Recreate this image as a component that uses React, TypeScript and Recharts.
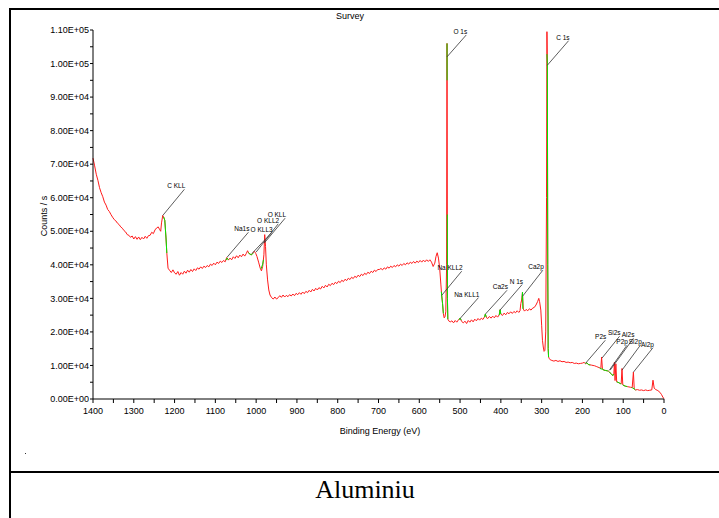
import { ComposedChart, Line, Scatter, XAxis, YAxis, ReferenceLine } from 'recharts'

// survey spectrum (binding energy in eV, counts / s)
const energy = [
  1400, 1396, 1392, 1388, 1384, 1380, 1376, 1372, 1368, 1364, 1360, 1356, 1352, 1348, 1344, 1340,
  1336, 1332, 1328, 1324, 1320, 1316, 1312, 1308, 1304, 1300, 1296, 1292, 1288, 1284, 1280, 1276,
  1272, 1268, 1264, 1260, 1256, 1252, 1248, 1244, 1240, 1237, 1234, 1232, 1229, 1227, 1224, 1221,
  1219, 1216, 1212, 1208, 1204, 1200, 1196, 1192, 1188, 1184, 1180, 1176, 1172, 1168, 1164, 1160,
  1156, 1152, 1148, 1144, 1140, 1136, 1132, 1128, 1124, 1120, 1116, 1112, 1108, 1104, 1100, 1096,
  1092, 1088, 1084, 1080, 1076, 1072, 1068, 1064, 1060, 1056, 1052, 1048, 1044, 1040, 1036, 1032,
  1028, 1024, 1021, 1018, 1015, 1012, 1008, 1004, 1001, 998, 994, 990, 987, 984, 981, 979,
  977, 975, 972, 969, 966, 962, 958, 954, 950, 946, 942, 938, 934, 930, 926, 922,
  918, 914, 910, 906, 902, 898, 894, 890, 886, 882, 878, 874, 870, 866, 862, 858,
  854, 850, 846, 842, 838, 834, 830, 826, 822, 818, 814, 810, 806, 802, 798, 794,
  790, 786, 782, 778, 774, 770, 766, 762, 758, 754, 750, 746, 742, 738, 734, 730,
  726, 722, 718, 714, 710, 706, 702, 698, 694, 690, 686, 682, 678, 674, 670, 666,
  662, 658, 654, 650, 646, 642, 638, 634, 630, 626, 622, 618, 614, 610, 606, 602,
  598, 594, 590, 586, 582, 578, 574, 570, 566, 562, 559, 556, 553, 550, 547, 545,
  543, 541, 539, 537, 535, 533, 532, 531, 530, 528, 524, 520, 516, 512, 508, 504,
  500, 496, 492, 488, 484, 480, 476, 472, 468, 464, 460, 456, 452, 448, 444, 440,
  438, 435, 432, 428, 424, 420, 416, 412, 408, 404, 402, 400, 396, 392, 388, 384,
  380, 376, 372, 368, 364, 360, 356, 353, 351, 349, 347, 345, 342, 338, 334, 330,
  326, 322, 318, 314, 310, 307, 305, 302, 300, 298, 296, 294, 292, 290, 288, 287,
  286, 285, 284, 283, 281, 279, 275, 270, 265, 260, 255, 250, 245, 240, 235, 230,
  225, 220, 215, 210, 205, 200, 196, 192, 189, 186, 182, 178, 174, 170, 166, 162,
  158, 155, 153, 151, 147, 143, 139, 136, 134, 131, 128, 125, 123, 121.5, 120, 118,
  116, 113, 110, 107, 105, 103, 101, 98, 94, 90, 86, 82, 78, 75, 73, 70,
  65, 60, 55, 50, 45, 40, 35, 30, 27, 24, 20, 15, 10, 6, 3, 0,
]
const counts = [
  71800, 69500, 67000, 65200, 63000, 61500, 60300, 58700, 57800, 56500, 55900, 55000, 54200, 53500, 53100, 52400,
  52000, 51300, 50900, 50200, 49800, 49000, 48800, 48200, 48600, 47700, 48400, 47600, 48300, 47500, 48200, 47700,
  48500, 47900, 48700, 48800, 49700, 49300, 50400, 51000, 51300, 50600, 50000, 52500, 54700, 54300, 53300, 48000,
  43500, 39000, 38300, 37700, 38500, 37600, 37200, 38000, 36900, 37700, 37200, 38100, 37500, 38400, 37800, 38600,
  38000, 38800, 38300, 39100, 38700, 39400, 38900, 39600, 39200, 39800, 39400, 40200, 39800, 40500, 40000, 40800,
  40400, 41100, 40700, 41300, 40900, 42200, 41400, 42000, 41500, 42400, 41900, 42700, 42100, 42900, 42400, 43200,
  42600, 43400, 44200, 43400, 43200, 42900, 43600, 44000, 43400, 42500, 40800, 39000, 38200, 39500, 43000, 49000,
  45500, 40000, 35500, 32500, 31000, 30200, 29800, 30400, 29800, 30200, 30800, 30300, 31000, 30400, 30900, 30500,
  31100, 30700, 31300, 30800, 31500, 31100, 31700, 31200, 31900, 31400, 32100, 31700, 32400, 31900, 32700, 32200,
  33000, 32500, 33200, 32800, 33600, 33100, 33900, 33400, 34200, 33800, 34500, 34100, 34800, 34400, 35100, 34700,
  35400, 35000, 35700, 35300, 36000, 35600, 36300, 35900, 36600, 36200, 36900, 36500, 37200, 36800, 37500, 37100,
  37800, 37400, 38100, 37700, 38400, 38000, 38600, 38600, 38900, 38500, 39100, 38700, 39400, 39000, 39600, 39200,
  39800, 39400, 40000, 39600, 40200, 39800, 40400, 40000, 40600, 40200, 40800, 40400, 41000, 40500, 41100, 40700,
  41300, 40800, 41400, 40900, 41500, 41000, 41500, 40800, 39500, 40500, 42500, 43600, 42000, 39000, 34000, 30900,
  28500, 25500, 24200, 24500, 26000, 40000, 106000, 30000, 23800, 23300, 23000, 23300, 22700, 23400, 22900, 23600,
  24100, 23100, 22700, 23200, 22500, 23400, 22900, 23600, 23000, 23800, 23300, 24000, 23500, 24100, 23700, 24500,
  25300, 24200, 24000, 24600, 24100, 24700, 24200, 24900, 24400, 25100, 26600, 25300, 24900, 25600, 25100, 25800,
  25400, 26000, 25500, 26100, 25700, 26300, 25800, 26300, 28500, 29500, 31800, 26800, 26200, 26700, 26300, 26900,
  26500, 27100, 27300, 28000, 29000, 30000, 29000, 26500, 22000, 17500, 15500, 14200, 14500, 20000, 60000, 109500,
  100000, 40000, 15000, 12500, 12000, 11700, 11500, 11300, 11500, 11200, 11400, 11100, 11200, 10900, 11000, 10800,
  10900, 10600, 10700, 10500, 10600, 10700, 10900, 10500, 10800, 10300, 10200, 10100, 10000, 9900, 9700, 9500,
  9300, 9000, 12500, 8900, 8600, 8500, 8400, 8300, 8100, 7600, 7300, 7000, 7400, 11000, 5500, 10500,
  5100, 5000, 4800, 4600, 4500, 9100, 4200, 4000, 3800, 3700, 3600, 3500, 3400, 8000, 3000, 2700,
  2800, 2600, 2700, 2500, 2700, 2500, 2600, 2700, 5600, 3200, 2800, 2500, 2000, 1300, 600, 100,
]

// green (peak region) overlay, null breaks the trace
const greenEnergy = [
  1227, 1224, 1221, 1219, 1150,
  1074, 1071, 1068, 1050,
  1019, 1015, 1011, 1007, 995,
  988, 984, 982, 700,
  546, 543, 541, 538,
  532, 531.85, 531.6, 531.3, 531, 530, 515,
  502, 500, 497, 470,
  440, 438, 436, 420,
  404, 402, 400, 380,
  348, 347, 346, 345, 320,
  287, 286, 285, 284, 283, 240,
  193, 189, 185, 181, 170,
  158, 155, 151, 147, 143, 139, 136, 135,
  134, 131, 128, 125, 123, 119,
  116, 113, 110, 107, 105, 104,
  101, 98, 94, 90, 85,
  79, 77, 73, 70,
]
const greenCounts = [
  54300, 53300, 48000, 43500, null,
  41400, 42000, 41500, null,
  43600, 43200, 43000, 43500, null,
  38800, 40200, 41500, null,
  32000, 28500, 25500, null,
  106000, 95000, null, 55000, 30000, 23800, null,
  23600, 24100, 23500, null,
  24400, 25300, 24500, null,
  25000, 26600, 25300, null,
  29500, 31800, 27000, 26800, null,
  102800, 100000, 40000, 15000, 12500, null,
  10600, 10800, 10250, 10150, null,
  9300, 9000, 8900, 8600, 8500, 8400, 8300, null,
  8100, 7600, 7300, 7000, 7400, null,
  5100, 5000, 4800, 4600, 4500, null,
  4200, 4000, 3800, 3700, null,
  3400, 3300, 3000, 2700,
]

// peak annotations: leader line from the peak up to the label
const annNames = ['C KLL', 'Na1s', 'O KLL3', 'O KLL2', 'O KLL', 'O 1s', 'Na KLL2', 'Na KLL1', 'Ca2s', 'N 1s', 'Ca2p', 'C 1s', 'P2s', 'Si2s', 'Al2s', 'P2p', 'Si2p', 'Al2p']
const annPeakE = [1229, 1071, 1010, 1000, 980, 532, 545, 500, 438, 402, 347, 286, 192, 152, 132, 134, 103, 75]
const annPeakC = [54700, 42300, 43400, 43800, 46500, 102000, 30900, 24000, 25300, 26500, 30600, 99500, 10700, 12200, 8600, 8600, 8600, 8000]
const annTipE = [1176, 1019, 962, 946, 929, 485, 496, 455, 385, 348, 297, 234, 144, 109, 75, 91, 57, 27]
const annTipC = [62500, 49700, 49600, 52200, 53900, 108500, 38100, 30200, 32400, 34100, 38400, 106800, 17500, 18700, 18100, 16000, 16200, 15300]

const yTicks = Array.from({ length: 23 }, (_, i) => i * 5000)
const xTicks = Array.from({ length: 29 }, (_, i) => i * 50)

const sci = (v: number) => {
  if (v === 0) return '0.00E+00'
  const e = Math.floor(Math.log10(v) + 1e-9)
  return `${(v / 10 ** e).toFixed(2)}E+${String(e).padStart(2, '0')}`
}

const FONT = '"Liberation Sans", Arial, sans-serif'

export default function App() {
  const redData = energy.map((e, i) => ({ e, c: counts[i] }))
  const greenData = greenEnergy.map((e, i) => ({ e, c: greenCounts[i] }))
  const labelData = annNames.map((name, i) => ({ name, e: annTipE[i], c: annTipC[i] }))

  const axisStyle = { fontSize: 9, fill: '#000', fontFamily: FONT }

  return (
    <div style={{ position: 'absolute', left: 0, top: 0, width: 719, height: 518, background: '#fff', fontFamily: FONT }}>
      <div style={{ position: 'absolute', left: 9, top: 8, width: 710, height: 2, background: '#000' }} />
      <div style={{ position: 'absolute', left: 9, top: 8, width: 2, height: 510, background: '#000' }} />
      <div style={{ position: 'absolute', left: 9, top: 471, width: 710, height: 2, background: '#000' }} />
      <div style={{ position: 'absolute', left: 25, top: 453, width: 1, height: 1, background: '#333' }} />

      <div style={{ position: 'absolute', left: 350, top: 16, transform: 'translate(-50%, -50%)', fontSize: 9, lineHeight: 1, whiteSpace: 'nowrap' }}>
        Survey
      </div>

      <div style={{ position: 'absolute', left: 0, top: 0 }}>
        <ComposedChart width={719} height={460} margin={{ top: 30, right: 55, bottom: 21, left: 0 }}>
          <XAxis
            type="number"
            dataKey="e"
            domain={[0, 1400]}
            reversed
            ticks={xTicks}
            interval={0}
            tickFormatter={(v: number) => (v % 100 === 0 ? String(v) : '')}
            tick={axisStyle}
            tickSize={4}
            tickMargin={5}
            height={40}
            axisLine={{ stroke: '#000' }}
            tickLine={{ stroke: '#000' }}
            allowDuplicatedCategory={false}
          />
          <YAxis
            type="number"
            domain={[0, 110000]}
            ticks={yTicks}
            interval={0}
            tickFormatter={(v: number) => (v % 10000 === 0 ? sci(v) : '')}
            tick={axisStyle}
            tickSize={3}
            tickMargin={1}
            width={93}
            axisLine={{ stroke: '#000' }}
            tickLine={{ stroke: '#000' }}
          />
          <Line data={redData} dataKey="c" type="linear" stroke="#ff1a1a" strokeWidth={1} dot={false} isAnimationActive={false} />
          <Line data={greenData} dataKey="c" type="linear" stroke="#00e600" strokeWidth={1} dot={false} connectNulls={false} isAnimationActive={false} />
          {annNames.map((n, i) => (
            <ReferenceLine
              key={n}
              segment={[{ x: annPeakE[i], y: annPeakC[i] }, { x: annTipE[i], y: annTipC[i] }]}
              stroke="#333"
              strokeWidth={0.8}
              ifOverflow="visible"
            />
          ))}
          <Scatter
            data={labelData}
            dataKey="c"
            isAnimationActive={false}
            shape={(p: any) => (
              <text x={p.cx + 1} y={p.cy - 1} textAnchor="end" fontSize={6.5} fontFamily={FONT} fill="#000">
                {p.payload.name}
              </text>
            )}
          />
        </ComposedChart>
      </div>

      <div style={{ position: 'absolute', left: 44, top: 216, transform: 'translate(-50%, -50%) rotate(-90deg)', fontSize: 9, lineHeight: 1, whiteSpace: 'nowrap' }}>
        Counts / s
      </div>
      <div style={{ position: 'absolute', left: 380, top: 431, transform: 'translate(-50%, -50%)', fontSize: 9, lineHeight: 1, whiteSpace: 'nowrap' }}>
        Binding Energy (eV)
      </div>
      <div style={{ position: 'absolute', left: 365, top: 477, transform: 'translateX(-50%)', fontSize: 26, lineHeight: '26px', whiteSpace: 'nowrap', fontFamily: '"Liberation Serif", "Times New Roman", serif' }}>
        Aluminiu
      </div>
    </div>
  )
}
